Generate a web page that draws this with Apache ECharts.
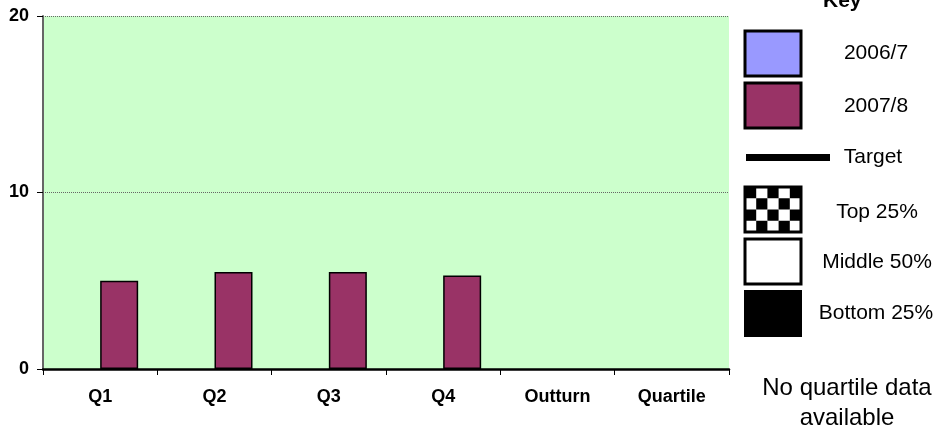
<!DOCTYPE html>
<html>
<head>
<meta charset="utf-8">
<script src="https://cdn.jsdelivr.net/npm/echarts@6/dist/echarts.min.js"></script>
<style>html,body{margin:0;padding:0;background:#fff}#c{width:937px;height:431px}</style>
</head>
<body>
<div id="c"></div>
<script>
var categories = ['Q1', 'Q2', 'Q3', 'Q4', 'Outturn', 'Quartile'];
var series2006 = [null, null, null, null, null, null];
var series2007 = [5.0, 5.5, 5.5, 5.3, null, null];
var targetValues = [null, null, null, null, null, null];
var yTicks = [0, 10, 20];

var FONT = '"Liberation Sans", Arial, sans-serif';

var chart = echarts.init(document.getElementById('c'), null, {renderer: 'canvas'});

function checker(x, y, w, h, cols, rows) {
  var els = [{type: 'rect', shape: {x: x, y: y, width: w, height: h}, style: {fill: '#fff', stroke: '#000', lineWidth: 3}}];
  var cw = w / cols, ch = h / rows;
  for (var r = 0; r < rows; r++) {
    for (var c = 0; c < cols; c++) {
      if ((r + c) % 2 === 0) {
        els.push({type: 'rect', shape: {x: x + c * cw, y: y + r * ch, width: cw, height: ch}, style: {fill: '#000'}});
      }
    }
  }
  return els;
}

var legendEls = [
  {type: 'text', left: 823, top: -9, style: {text: 'Key', font: 'bold 21px ' + FONT, fill: '#000'}},
  {type: 'rect', shape: {x: 745, y: 31, width: 56, height: 45}, style: {fill: '#9999ff', stroke: '#000', lineWidth: 3}},
  {type: 'text', x: 876, y: 53, style: {text: '2006/7', font: '21px ' + FONT, fill: '#000', align: 'center', verticalAlign: 'middle'}},
  {type: 'rect', shape: {x: 745, y: 83, width: 56, height: 45}, style: {fill: '#993366', stroke: '#000', lineWidth: 3}},
  {type: 'text', x: 876, y: 106, style: {text: '2007/8', font: '21px ' + FONT, fill: '#000', align: 'center', verticalAlign: 'middle'}},
  {type: 'rect', shape: {x: 746, y: 154, width: 84, height: 7}, style: {fill: '#000'}},
  {type: 'text', x: 873, y: 157, style: {text: 'Target', font: '21px ' + FONT, fill: '#000', align: 'center', verticalAlign: 'middle'}},
  {type: 'text', x: 877, y: 212, style: {text: 'Top 25%', font: '21px ' + FONT, fill: '#000', align: 'center', verticalAlign: 'middle'}},
  {type: 'rect', shape: {x: 745, y: 239, width: 56, height: 45}, style: {fill: '#fff', stroke: '#000', lineWidth: 3}},
  {type: 'text', x: 877, y: 262, style: {text: 'Middle 50%', font: '21px ' + FONT, fill: '#000', align: 'center', verticalAlign: 'middle'}},
  {type: 'rect', shape: {x: 744, y: 290, width: 58, height: 47}, style: {fill: '#000'}},
  {type: 'text', x: 876, y: 313, style: {text: 'Bottom 25%', font: '21px ' + FONT, fill: '#000', align: 'center', verticalAlign: 'middle'}},
  {type: 'text', x: 847, y: 388, style: {text: 'No quartile data', font: '24px ' + FONT, fill: '#000', align: 'center', verticalAlign: 'middle'}},
  {type: 'text', x: 847, y: 418, style: {text: 'available', font: '24px ' + FONT, fill: '#000', align: 'center', verticalAlign: 'middle'}}
].concat(checker(745, 187, 56, 45, 5, 4));

var option = {
  animation: false,
  backgroundColor: '#ffffff',
  grid: {left: 43, right: 208, top: 16, bottom: 62, show: true, backgroundColor: '#ccffcc', borderWidth: 0, containLabel: false},
  xAxis: {
    type: 'category',
    data: categories,
    boundaryGap: true,
    axisLine: {show: true, lineStyle: {color: '#000', width: 2.5}},
    axisTick: {show: true, alignWithLabel: false, length: 6, lineStyle: {color: '#000', width: 1}},
    axisLabel: {color: '#000', fontFamily: FONT, fontWeight: 'bold', fontSize: 18, margin: 19, interval: 0},
    splitLine: {show: false}
  },
  yAxis: {
    type: 'value',
    min: yTicks[0],
    max: yTicks[yTicks.length - 1],
    interval: 10,
    axisLine: {show: true, lineStyle: {color: '#666', width: 2}},
    axisTick: {show: true, inside: false, length: 6, lineStyle: {color: '#000', width: 1}},
    axisLabel: {color: '#000', fontFamily: FONT, fontWeight: 'bold', fontSize: 18, margin: 14},
    splitLine: {show: true, lineStyle: {color: '#666', type: [1, 1], width: 1}}
  },
  series: [
    {name: '2006/7', type: 'bar', data: series2006, barWidth: 38, barGap: '0%',
     itemStyle: {color: '#9999ff', borderColor: '#000', borderWidth: 1.5}},
    {name: '2007/8', type: 'bar', data: series2007, barWidth: 38, barGap: '0%',
     itemStyle: {color: '#993366', borderColor: '#000', borderWidth: 1.5}},
    {name: 'Target', type: 'line', data: targetValues, symbol: 'none', lineStyle: {color: '#000', width: 4}}
  ],
  graphic: legendEls
};

chart.setOption(option);
</script>
</body>
</html>
